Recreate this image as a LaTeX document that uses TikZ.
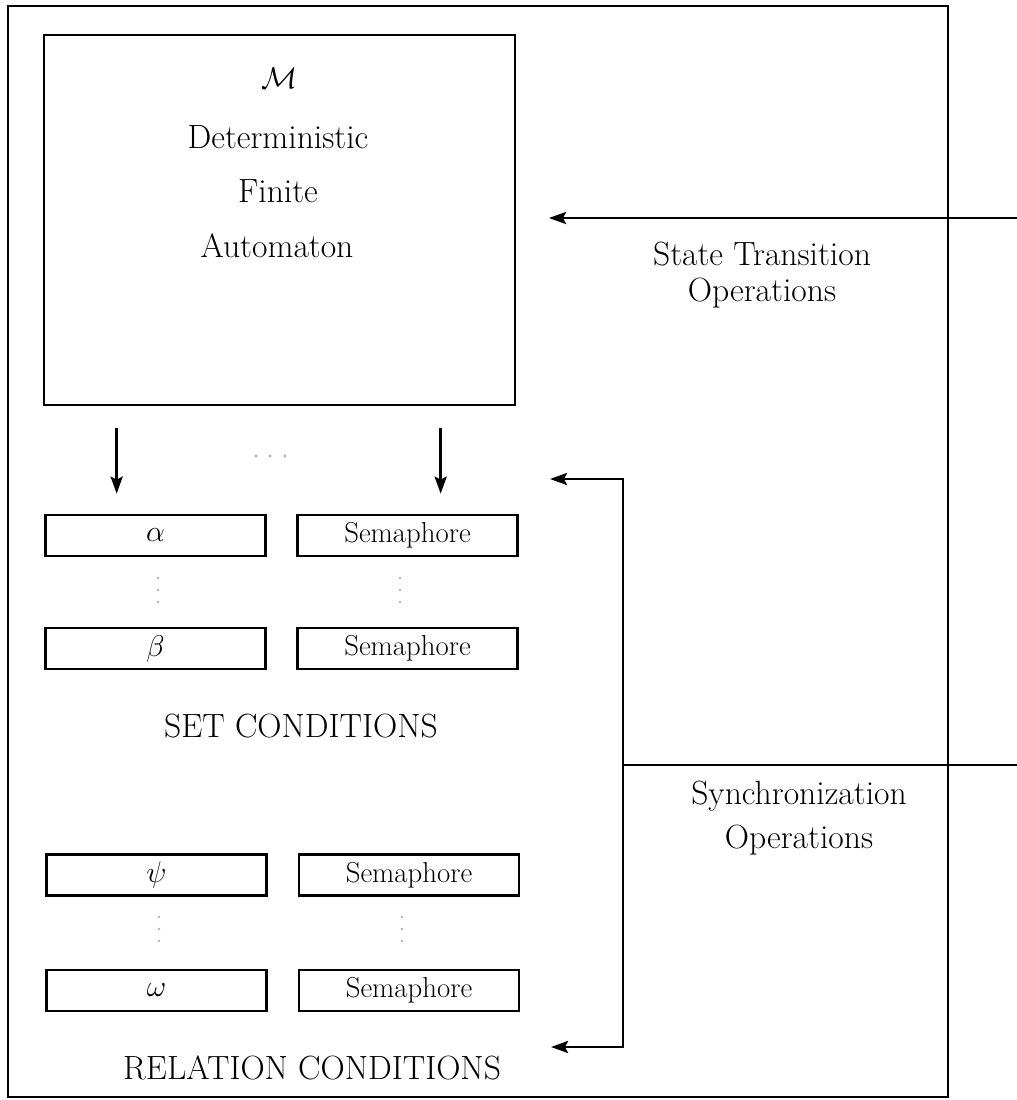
\RequirePackage{fix-cm}
\documentclass[tikz,border=0pt]{standalone}
\usetikzlibrary{arrows.meta}
\begin{document}
\begin{tikzpicture}[x=1pt,y=-1pt,
  frame/.style={line width=2.7pt},
  arr/.style={line width=2.7pt,-{Stealth[length=17pt,width=12pt,inset=3pt]}},
  condbox/.style={draw,line width=2.7pt,minimum width=220pt,minimum height=41pt,inner sep=0pt},
  bigtxt/.style={font=\fontsize{33.6}{40}\selectfont,inner sep=0pt},
  mathtxt/.style={font=\fontsize{30}{36}\selectfont},
  semtxt/.style={font=\fontsize{28.8}{34}\selectfont},
  faint/.style={fill=black!30,draw=none}]
\useasboundingbox (0,0) rectangle (1017,1100);

% outer frame
\draw[frame] (8,6) rectangle (948,1097);

% automaton box
\node[draw,line width=2.7pt,minimum width=471pt,minimum height=370pt,inner sep=0pt] (dfa) at (279.5,220) {};
\node[mathtxt,inner sep=0pt] (mcal) at (280,78) {$\mathcal{M}$};
\node[bigtxt] (det) at (278,137) {Deterministic};
\node[bigtxt] (fin) at (278,191) {Finite};
\node[bigtxt] (aut) at (277,246) {Automaton};

% set condition registers
\node[condbox,mathtxt] (alpha) at (155.5,535.5) {$\alpha$};
\node[condbox,semtxt] (sa) at (407.5,535.5) {Semaphore};
\node[condbox,mathtxt] (beta) at (155.5,648.5) {$\beta$};
\node[condbox,semtxt] (sb) at (407.5,648.5) {Semaphore};
\node[bigtxt] (setc) at (301,726) {SET CONDITIONS};

% relation condition registers
\node[condbox,mathtxt] (psi) at (156.5,875) {$\psi$};
\node[condbox,semtxt] (sp) at (409,875) {Semaphore};
\node[condbox,mathtxt] (omega) at (156.5,990.5) {$\omega$};
\node[condbox,semtxt] (so) at (409,990.5) {Semaphore};
\node[bigtxt] (relc) at (312,1068) {RELATION CONDITIONS};

% arrows from automaton into the registers
\draw[arr] ([shift={(74,22)}]dfa.south west) -- ([shift={(72.5,-20)}]alpha.north west);
\draw[arr] ([shift={(398,22)}]dfa.south west) -- ([shift={(144.5,-20)}]sa.north west);

% faint ellipses
\foreach \x in {256,270,285} \fill[faint] (\x,456) circle (1.6);
\foreach \y in {578,590,602} {\fill[faint] (158,\y) circle (1.4); \fill[faint] (400,\y) circle (1.4);}
\foreach \y in {917,929,941} {\fill[faint] (159,\y) circle (1.4); \fill[faint] (402,\y) circle (1.4);}

% state transition operations
\coordinate (stR) at (1017,218);
\coordinate (stL) at (549,218);
\draw[arr] (stR) -- (stL);
\node[bigtxt] (st1) at (762,254) {State Transition};
\node[bigtxt] (st2) at (762,293) {Operations};

% synchronization operations
\coordinate (syR) at (1017,765);
\coordinate (syJ) at (623,765);
\coordinate (syT) at (623,479);
\coordinate (syB) at (623,1047);
\coordinate (syTL) at (550,479);
\coordinate (syBL) at (551,1047);
\draw[frame] (syR) -- (syJ);
\draw[arr] (syJ) -- (syT) -- (syTL);
\draw[arr] (syJ) -- (syB) -- (syBL);
\node[bigtxt] (sy1) at (799,796) {Synchronization};
\node[bigtxt] (sy2) at (799,840) {Operations};
\end{tikzpicture}
\end{document}
